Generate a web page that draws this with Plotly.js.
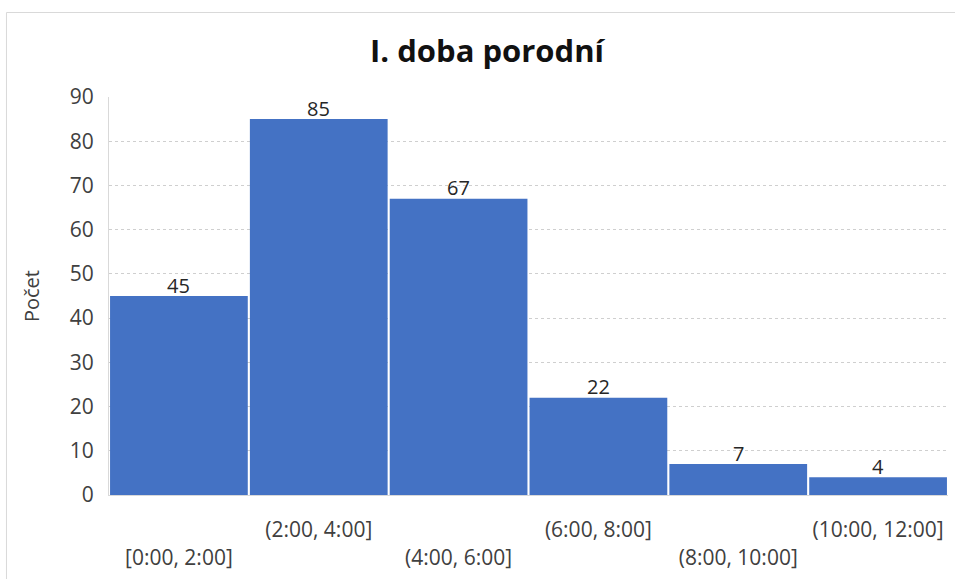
<!DOCTYPE html>
<html>
<head>
<meta charset="utf-8">
<script src="https://cdn.plot.ly/plotly-3.0.1.min.js"></script>
<style>html,body{margin:0;padding:0;background:#fff;}#chart{width:955px;height:579px;}</style>
</head>
<body>
<div id="chart"></div>
<script>
const categories = ["[0:00, 2:00]", "(2:00, 4:00]", "(4:00, 6:00]", "(6:00, 8:00]", "(8:00, 10:00]", "(10:00, 12:00]"];
const counts = [45, 85, 67, 22, 7, 4];
const yTicks = [0, 10, 20, 30, 40, 50, 60, 70, 80, 90];
const chartTitle = "I. doba porodní";
const yTitle = "Počet";

const FONT = "'Open Sans', 'Noto Sans', sans-serif";
const tickText = categories.map((c, i) => (i % 2 === 0 ? "<br>" + c : c));

const trace = {
  type: "bar",
  x: categories,
  y: counts,
  marker: { color: "#4472C4", line: { width: 0 } },
  hoverinfo: "x+y",
  showlegend: false
};

const labelAnnotations = categories.map((c, i) => ({
  x: c, y: counts[i], xref: "x", yref: "y",
  text: String(counts[i]), showarrow: false,
  yanchor: "middle", yshift: 11,
  font: { family: FONT, size: 20, color: "#262626" }
}));

const layout = {
  width: 955, height: 579,
  margin: { l: 109, r: 7, t: 97, b: 84 },
  paper_bgcolor: "#ffffff", plot_bgcolor: "#ffffff",
  bargap: 0.015,
  title: {
    text: "<b>" + chartTitle + "</b>",
    x: 0.51, xref: "container", xanchor: "center",
    y: 0.912, yref: "container", yanchor: "middle",
    font: { family: FONT, size: 31, color: "#111111" }
  },
  xaxis: {
    type: "category",
    tickmode: "array", tickvals: categories, ticktext: tickText,
    ticks: "outside", ticklen: 16, tickcolor: "rgba(0,0,0,0)",
    tickfont: { family: FONT, size: 21, color: "#404040" },
    showgrid: false, showline: true, linecolor: "#d9d9d9", linewidth: 1,
    zeroline: false, automargin: false, fixedrange: true
  },
  yaxis: {
    range: [0, 90], tickmode: "array", tickvals: yTicks,
    ticks: "outside", ticklen: 10, tickcolor: "rgba(0,0,0,0)",
    tickfont: { family: FONT, size: 21, color: "#404040" },
    showgrid: true, gridcolor: "#cfcfcf", griddash: "dot", gridwidth: 1,
    showline: true, linecolor: "#d9d9d9", linewidth: 1,
    zeroline: false, automargin: false, fixedrange: true,
    title: { text: yTitle, font: { family: FONT, size: 20, color: "#404040" }, standoff: 24 }
  },
  annotations: labelAnnotations,
  shapes: [{
    type: "rect", xref: "paper", yref: "paper",
    x0: -0.1222, x1: 1.2, y0: -0.4, y1: 1.2123,
    line: { color: "#d9d9d9", width: 1 }, fillcolor: "rgba(0,0,0,0)", layer: "below"
  }]
};

Plotly.newPlot("chart", [trace], layout, { displayModeBar: false, staticPlot: true });
</script>
</body>
</html>
